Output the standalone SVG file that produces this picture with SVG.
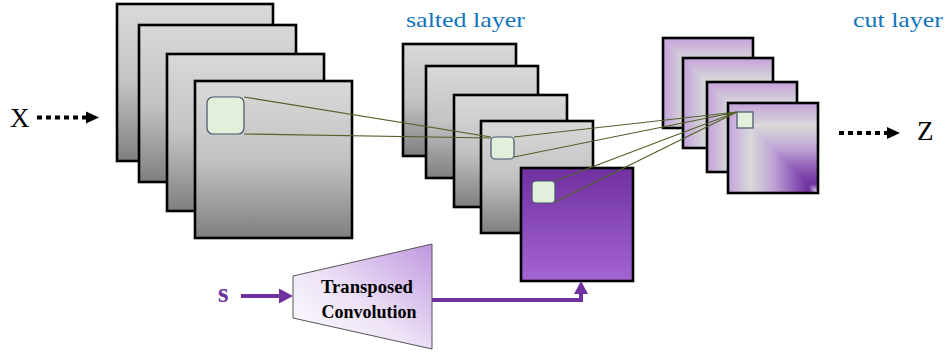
<svg xmlns="http://www.w3.org/2000/svg" xmlns:xlink="http://www.w3.org/1999/xlink" width="947" height="354" viewBox="0 0 947 354">
<style>
.frame{stroke:#000;stroke-width:2.6;}
.grey{fill:url(#gGrey);}
.patch{fill:#e2efda;stroke:#44546a;stroke-width:1.2;}
.conn{stroke:#4f6228;stroke-width:1.2;fill:none;}
.label{font-family:"Liberation Serif","DejaVu Serif",serif;fill:#0f75bd;font-size:22px;}
.var{font-family:"Liberation Serif","DejaVu Serif",serif;font-size:27px;fill:#000;}
.dots{stroke:#000;stroke-width:4;stroke-dasharray:5 4;fill:none;}
.purp{stroke:#7030a0;stroke-width:4;fill:none;}
.box{font-family:"Liberation Serif","DejaVu Serif",serif;font-weight:bold;font-size:18px;fill:#000;}
</style>
<defs>
<linearGradient id="gGrey" x1="0" y1="0" x2="0" y2="1">
<stop offset="0" stop-color="#d9d9d9"/>
<stop offset="0.5" stop-color="#c3c3c3"/>
<stop offset="1" stop-color="#7f7f7f"/>
</linearGradient>
<linearGradient id="gPurple" x1="0" y1="0" x2="0" y2="1">
<stop offset="0" stop-color="#7030a0"/>
<stop offset="1" stop-color="#a465d3"/>
</linearGradient>
<linearGradient id="gTrap" x1="0" y1="1" x2="1" y2="0">
<stop offset="0" stop-color="#ffffff"/>
<stop offset="0.45" stop-color="#ede2f6"/>
<stop offset="1" stop-color="#bf98e0"/>
</linearGradient>
<linearGradient id="gCutX" x1="1" y1="0" x2="0" y2="0">
<stop offset="0" stop-color="#f0e6f8"/>
<stop offset="0.1" stop-color="#7030a0"/>
<stop offset="0.25" stop-color="#8a56b4"/>
<stop offset="0.5" stop-color="#bfa5d6"/>
<stop offset="0.75" stop-color="#d9d9d9"/>
<stop offset="1" stop-color="#c4a2dc"/>
</linearGradient>
<linearGradient id="gCutY" x1="0" y1="1" x2="0" y2="0">
<stop offset="0" stop-color="#f0e6f8"/>
<stop offset="0.1" stop-color="#7030a0"/>
<stop offset="0.25" stop-color="#8a56b4"/>
<stop offset="0.5" stop-color="#bfa5d6"/>
<stop offset="0.75" stop-color="#d9d9d9"/>
<stop offset="1" stop-color="#c4a2dc"/>
</linearGradient>
<g id="cutFill">
<rect x="0" y="0" width="90" height="90" fill="url(#gCutY)"/>
<polygon points="0,0 0,90 90,90" fill="url(#gCutX)"/>
</g>
</defs>
<rect width="947" height="354" fill="#fff"/>

<g id="input-x">
<text class="var" x="10" y="127">X</text>
<line class="dots" x1="37" y1="117.5" x2="86" y2="117.5"/>
<polygon points="86,111.5 99,117.5 86,123.5" fill="#000"/>
</g>

<g id="input-stack">
<rect class="frame grey" x="117" y="4" width="156" height="157"/>
<rect class="frame grey" x="139" y="25" width="157" height="157"/>
<rect class="frame grey" x="167" y="54" width="157" height="157"/>
<rect class="frame grey" x="195" y="81" width="157" height="157"/>
<rect class="patch" x="207" y="97" width="37" height="37" rx="6"/>
</g>

<g id="salted-layer">
<text class="label" x="406" y="27" textLength="119" lengthAdjust="spacingAndGlyphs">salted layer</text>
<rect class="frame grey" x="403" y="44" width="113" height="112"/>
<rect class="frame grey" x="426" y="66" width="112" height="112"/>
<rect class="frame grey" x="454" y="95" width="113" height="112"/>
<rect class="frame grey" x="481" y="121" width="112" height="112"/>
<rect class="patch" x="491" y="137" width="23" height="22" rx="4"/>
</g>

<g id="salt-map">
<rect class="frame" x="521" y="168" width="112" height="113" fill="url(#gPurple)"/>
<rect class="patch" x="532" y="181" width="23" height="22" rx="4"/>
</g>

<g id="cut-layer">
<text class="label" x="853" y="27" textLength="90" lengthAdjust="spacingAndGlyphs">cut layer</text>
<use xlink:href="#cutFill" x="663" y="38"/>
<rect class="frame" x="663" y="38" width="90" height="90" fill="none"/>
<use xlink:href="#cutFill" x="683" y="58"/>
<rect class="frame" x="683" y="58" width="90" height="90" fill="none"/>
<use xlink:href="#cutFill" x="707" y="82"/>
<rect class="frame" x="707" y="82" width="90" height="90" fill="none"/>
<use xlink:href="#cutFill" x="728" y="103"/>
<rect class="frame" x="728" y="103" width="90" height="90" fill="none"/>
<rect x="737" y="112" width="16" height="16" fill="#e2efda" stroke="#44546a" stroke-width="1.2"/>
</g>

<g id="output-z">
<line class="dots" x1="839" y1="133" x2="887" y2="133"/>
<polygon points="887,127 900,133 887,139" fill="#000"/>
<text class="var" x="917" y="140">Z</text>
</g>

<g id="input-s">
<text x="218" y="302" font-family="'Liberation Serif','DejaVu Serif',serif" font-weight="bold" font-size="27" fill="#7030a0">s</text>
</g>

<g id="transposed-convolution">
<polygon points="293,276 432,244 432,349 293,318" fill="url(#gTrap)" stroke="#555" stroke-width="1"/>
<text class="box" x="367" y="293" text-anchor="middle" textLength="92" lengthAdjust="spacingAndGlyphs">Transposed</text>
<text class="box" x="369" y="318" text-anchor="middle" textLength="95" lengthAdjust="spacingAndGlyphs">Convolution</text>
</g>

<g id="connectors">
<line class="purp" x1="241" y1="296" x2="280" y2="296"/>
<polygon points="279,288.5 293,296 279,303.5" fill="#7030a0"/>
<polyline class="purp" points="432,300 581,300 581,292"/>
<polygon points="574,294 581,281 588,294" fill="#7030a0"/>
<line class="conn" x1="244" y1="97" x2="491" y2="137"/>
<line class="conn" x1="244" y1="134" x2="491" y2="138"/>
<line class="conn" x1="514" y1="137" x2="737" y2="112"/>
<line class="conn" x1="514" y1="157" x2="737" y2="112"/>
<line class="conn" x1="555" y1="181" x2="737" y2="112"/>
<line class="conn" x1="555" y1="202" x2="737" y2="112"/>
</g>
</svg>
